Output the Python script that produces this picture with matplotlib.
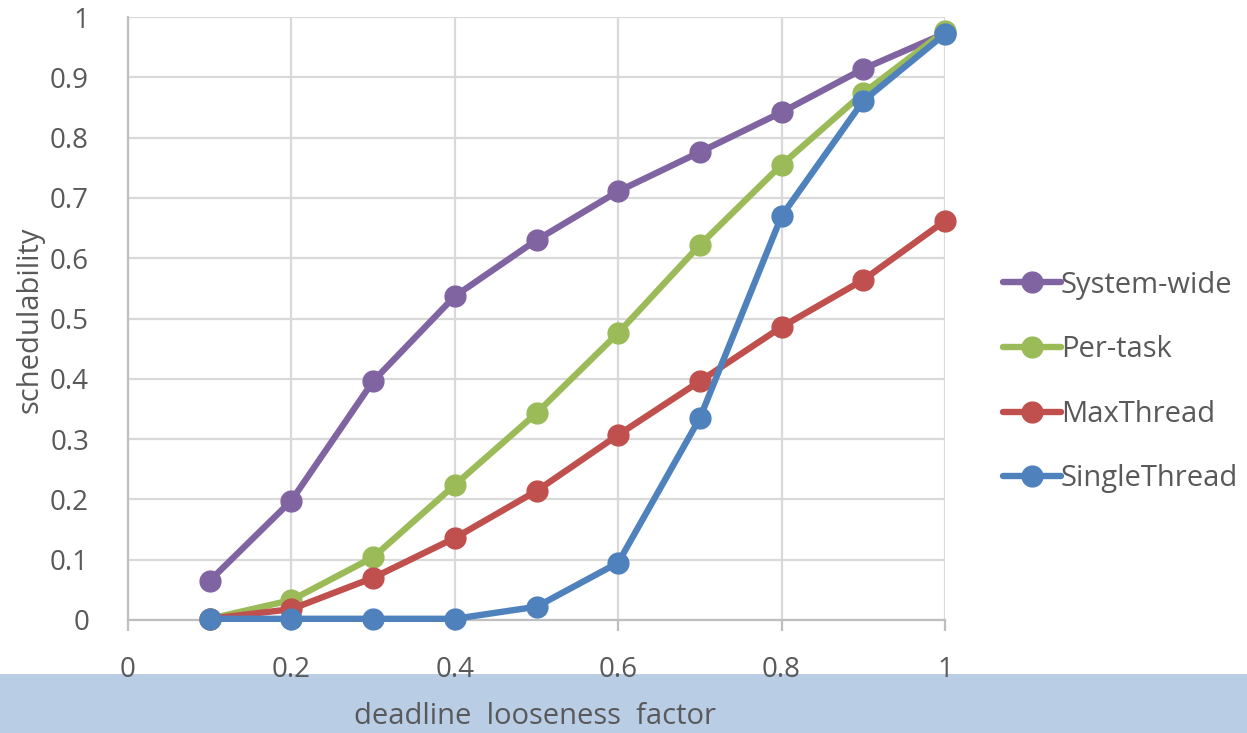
import matplotlib
matplotlib.use("Agg")
import matplotlib.pyplot as plt
from matplotlib.patches import Rectangle

plt.rcParams['font.family'] = ['Open Sans', 'DejaVu Sans']

x = [0.1, 0.2, 0.3, 0.4, 0.5, 0.6, 0.7, 0.8, 0.9, 1.0]
system_wide = [0.065, 0.198, 0.396, 0.537, 0.630, 0.711, 0.776, 0.842, 0.914, 0.973]
per_task = [0.002, 0.033, 0.104, 0.224, 0.343, 0.476, 0.622, 0.755, 0.874, 0.977]
max_thread = [0.002, 0.018, 0.070, 0.136, 0.214, 0.307, 0.396, 0.486, 0.564, 0.662]
single_thread = [0.002, 0.002, 0.002, 0.002, 0.022, 0.095, 0.335, 0.670, 0.861, 0.972]

series = [
    ("System-wide", system_wide, "#8064A2"),
    ("Per-task", per_task, "#9BBB59"),
    ("MaxThread", max_thread, "#C0504D"),
    ("SingleThread", single_thread, "#4F81BD"),
]
xticks = [0, 0.2, 0.4, 0.6, 0.8, 1]
yticks = [0, 0.1, 0.2, 0.3, 0.4, 0.5, 0.6, 0.7, 0.8, 0.9, 1]

W, H = 1247, 733
fig = plt.figure(figsize=(W / 100, H / 100), dpi=100)
ax = fig.add_axes([128 / W, 1 - 620 / H, (945 - 128) / W, (620 - 17) / H])

band = Rectangle((0, 0), 1, (733 - 674) / H, transform=fig.transFigure,
                 facecolor="#B9CDE5", edgecolor="none", zorder=-1)
fig.patches.append(band)

for name, vals, col in series:
    ax.plot(x, vals, color=col, lw=4.6, marker="o", ms=15, label=name,
            solid_capstyle="round", clip_on=False, zorder=3)

ax.set_xlim(0, 1)
ax.set_ylim(0, 1)
ax.set_xticks(xticks)
ax.set_xticklabels(["0", "0.2", "0.4", "0.6", "0.8", "1"])
ax.set_yticks(yticks)
ax.set_yticklabels(["0", "0.1", "0.2", "0.3", "0.4", "0.5", "0.6", "0.7", "0.8", "0.9", "1"])
ax.grid(True, color="#D9D9D9", lw=1.6)
ax.set_axisbelow(True)
for s in ["top", "right"]:
    ax.spines[s].set_visible(False)
for s in ["left", "bottom"]:
    ax.spines[s].set_color("#BFBFBF")
    ax.spines[s].set_linewidth(1.6)
ax.tick_params(axis="x", length=8, width=1.6, color="#BFBFBF", pad=18,
               labelsize=20, labelcolor="#595959")
ax.tick_params(axis="y", length=0, pad=28, labelsize=20, labelcolor="#595959")

fig.text(30 / W, 1 - 320 / H, "schedulability", rotation=90, ha="center", va="center",
         fontsize=21, color="#595959")
fig.text(535 / W, 1 - 717 / H, "deadline  looseness  factor", ha="center", va="center",
         fontsize=21, color="#595959")

leg = ax.legend(loc="center left", bbox_to_anchor=(991 / W, 1 - 382 / H),
                bbox_transform=fig.transFigure, frameon=False, fontsize=21,
                handlelength=2.0, handletextpad=0.0, labelspacing=1.22,
                labelcolor="#595959", borderaxespad=0)

fig.savefig("out.png", dpi=100)
